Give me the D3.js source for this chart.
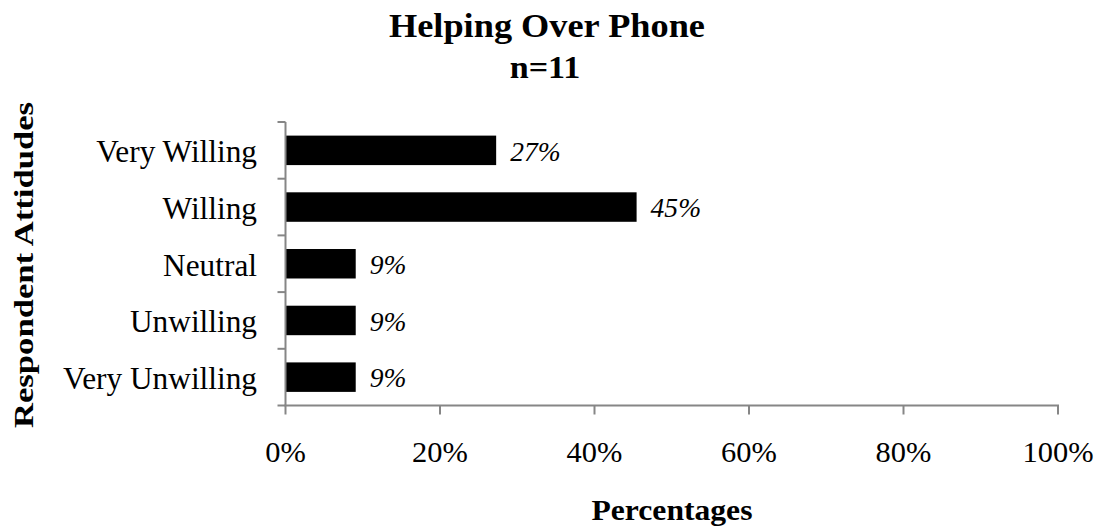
<!DOCTYPE html>
<html><head><meta charset="utf-8">
<script src="https://cdn.jsdelivr.net/npm/d3@7"></script>
<style>body{margin:0;background:#fff}svg{display:block}text{font-family:"Liberation Serif","Times New Roman",serif}</style>
</head><body><div id="c"></div>
<script>
const categories = ["Very Willing","Willing","Neutral","Unwilling","Very Unwilling"];
const values = [27.27, 45.45, 9.09, 9.09, 9.09];
const valueLabels = ["27%","45%","9%","9%","9%"];
const xTicks = [0,20,40,60,80,100];
const title = ["Helping Over Phone","n=11"];

const W=1101,H=531;
const m={left:285.5,right:1058,top:122,bottom:405.5};
const svg=d3.select("#c").append("svg").attr("width",W).attr("height",H);
const x=d3.scaleLinear().domain([0,100]).range([m.left,m.right]);
const y=d3.scaleBand().domain(categories).range([m.top,m.bottom]).paddingInner(0.48).paddingOuter(0.24);
const ax="#868686";

function stretch(sel,f){
  sel.each(function(){const w=this.getComputedTextLength();d3.select(this).attr("textLength",w*f).attr("lengthAdjust","spacingAndGlyphs");});
  return sel;
}

// bars
svg.selectAll("rect.bar").data(values).join("rect")
  .attr("x",x(0)).attr("y",(d,i)=>y(categories[i]))
  .attr("width",d=>x(d)-x(0)).attr("height",y.bandwidth()).attr("fill","#000");

// y axis
const ya=svg.append("g").attr("transform",`translate(${m.left},0)`);
ya.append("line").attr("x1",0).attr("x2",0).attr("y1",m.top).attr("y2",m.bottom).attr("stroke",ax).attr("stroke-width",2);
d3.range(categories.length+1).forEach(i=>{
  const yy=m.top+i*(m.bottom-m.top)/categories.length;
  ya.append("line").attr("x1",-8).attr("x2",0).attr("y1",yy).attr("y2",yy).attr("stroke",ax).attr("stroke-width",2);
});
categories.forEach(c=>{
  stretch(svg.append("text").attr("x",257).attr("y",y(c)+y.bandwidth()/2).attr("dy","0.38em")
    .attr("text-anchor","end").attr("font-size",31).text(c),1.01);
});

// x axis
const xa=svg.append("g");
xa.append("line").attr("x1",m.left-1).attr("x2",m.right+1).attr("y1",m.bottom).attr("y2",m.bottom).attr("stroke",ax).attr("stroke-width",2);
xTicks.forEach(t=>{
  xa.append("line").attr("x1",x(t)).attr("x2",x(t)).attr("y1",m.bottom).attr("y2",m.bottom+9).attr("stroke",ax).attr("stroke-width",2);
  stretch(xa.append("text").attr("x",x(t)).attr("y",462).attr("text-anchor","middle").attr("font-size",29).text(t+"%"),1.05);
});

// value labels
values.forEach((v,i)=>{
  stretch(svg.append("text").attr("x",x(v)+14).attr("y",y(categories[i])+y.bandwidth()/2).attr("dy","0.38em")
    .attr("font-style","italic").attr("font-size",27).text(valueLabels[i]),1.02);
});

// titles
stretch(svg.append("text").attr("x",547).attr("y",37).attr("text-anchor","middle").attr("font-weight","bold").attr("font-size",33).text(title[0]),1.1);
stretch(svg.append("text").attr("x",545).attr("y",78).attr("text-anchor","middle").attr("font-weight","bold").attr("font-size",31).text(title[1]),1.1);
stretch(svg.append("text").attr("x",672).attr("y",520).attr("text-anchor","middle").attr("font-weight","bold").attr("font-size",29).text("Percentages"),1.09);
const yl=svg.append("text").attr("transform","translate(33,265) rotate(-90)").attr("text-anchor","middle").attr("font-weight","bold").attr("font-size",28).text("Respondent Attidudes");
yl.attr("textLength",326).attr("lengthAdjust","spacingAndGlyphs");
</script></body></html>
